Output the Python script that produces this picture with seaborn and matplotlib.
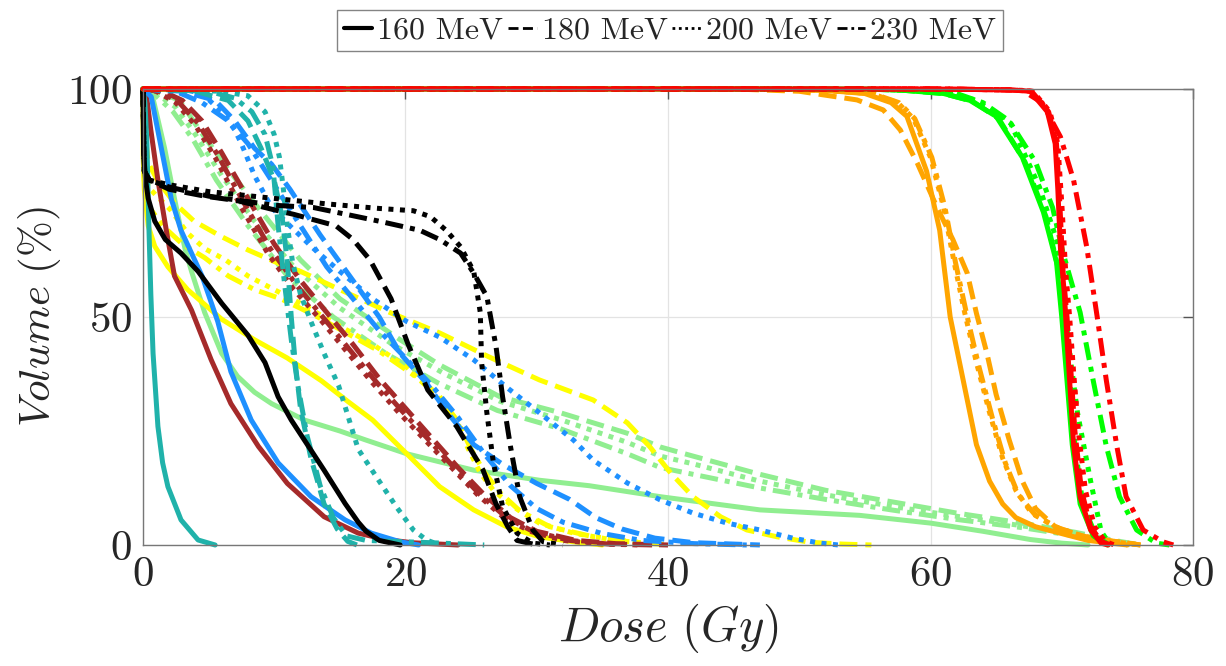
import matplotlib
matplotlib.use("Agg")
import matplotlib.pyplot as plt
from matplotlib.lines import Line2D
import seaborn as sns

# ---- dose-volume histogram points: (dose in Gy, volume in %) ----
# one list per structure colour and proton energy
red_160 = [(0, 100), (60, 100), (66, 99.8), (67.6, 99.5), (68.9, 95), (69.5, 88), (69.7, 78), (69.9, 65),
           (70.2, 55), (70.4, 45), (70.6, 36), (70.9, 22), (71.4, 10.5), (72.2, 3.3), (73, 0.4), (73.5, 0)]
red_180 = [(0, 100), (60, 100), (66, 99.8), (67.7, 99.5), (69, 95), (69.6, 88), (69.85, 75), (70.1, 60),
           (70.4, 50), (70.7, 38), (71, 25), (71.5, 12), (72.2, 4), (73, 0.8), (73.7, 0)]
red_200 = [(0, 100), (60, 100), (66, 99.8), (67.8, 99.5), (69.1, 95), (69.7, 88), (70, 75), (70.3, 60),
           (70.6, 50), (70.9, 38), (71.3, 24), (71.8, 12), (72.5, 4), (73.3, 0.8), (74, 0)]
red_230 = [(0, 100), (62, 100), (67, 99.7), (68.5, 97), (69.9, 89.5), (70.9, 80), (71.9, 65.4), (72.7, 50),
           (73.4, 36), (74.2, 21.6), (74.9, 10.6), (76.2, 3.3), (77.7, 0.7), (78.5, 0)]

green_160 = [(0, 100), (55, 100), (58, 99.7), (61, 99), (63, 97.5), (65, 94), (67, 85), (68.6, 73), (69.6, 62),
             (70, 50), (70.4, 36), (70.8, 22), (71.4, 9), (72.4, 2), (73.5, 0)]
green_180 = [(0, 100), (55, 100), (58, 99.7), (61, 99), (63.2, 97.3), (65.2, 93.5), (67.2, 84), (68.8, 72),
             (69.7, 61), (70.2, 50), (70.6, 36), (71, 22), (71.6, 9), (72.6, 2), (73.6, 0)]
green_200 = [(0, 100), (55, 100), (58.5, 99.7), (61.5, 99), (63.5, 97.5), (66.1, 92.5), (68.3, 78.5),
             (69.6, 67), (70.3, 50), (70.7, 40), (71.2, 29), (72.2, 14), (73, 3), (73.7, 0)]
green_230 = [(0, 100), (56, 100), (59, 99.7), (62, 99), (64, 97), (66, 93), (68, 84), (69.3, 74), (70.1, 64),
             (71.4, 51), (72.4, 36), (73.4, 21.6), (74.4, 10.6), (75.7, 3.3), (77.2, 0.4), (78.2, 0)]

orange_160 = [(0, 100), (48, 100), (52, 99.7), (55, 99), (57, 97), (58.2, 94), (59.7, 82), (60.7, 69),
              (61.5, 50), (62.5, 36), (63.5, 22), (64.5, 14), (65.5, 9), (66.5, 6), (68, 4), (70, 2.5),
              (72, 1), (75, 0)]
orange_180 = [(0, 100), (45, 100), (50, 99.5), (54.4, 97.6), (56.4, 95.4), (57.7, 91), (59, 83.7), (60.5, 74),
              (61.7, 67), (62.8, 59.6), (63.5, 50.8), (64.3, 42), (65, 33), (66, 23), (67, 14), (68, 8),
              (69.5, 4), (71.5, 2), (74, 0.8), (76, 0)]
orange_200 = [(0, 100), (48, 100), (52, 99.7), (55.5, 99), (57.5, 97), (58.7, 93.5), (60, 85), (61, 74),
              (61.8, 62), (62.6, 51), (63.5, 40), (64.5, 29), (65.5, 19), (66.5, 12), (67.7, 7), (69.5, 4),
              (71.5, 2), (74, 0.7), (76, 0)]
orange_230 = [(0, 100), (48, 100), (52, 99.7), (55.6, 99), (57.6, 97), (58.8, 93.5), (60.1, 85), (61.1, 74),
              (61.9, 62), (62.8, 50), (63.7, 39), (64.7, 28), (65.7, 18), (66.7, 11), (68, 6.5), (69.8, 3.6),
              (72, 1.6), (74.5, 0.6), (76, 0)]

lightgreen_160 = [(0, 100), (0.3, 99.5), (0.76, 98), (1.65, 87), (2.4, 76), (3.2, 65), (3.7, 60), (4.7, 51),
                  (6, 42), (7.2, 37), (8.5, 33.5), (9.8, 31), (12.3, 27.4), (15, 25), (17, 23), (20.1, 20),
                  (25.2, 16.4), (30.2, 14.2), (34, 13), (39.4, 10.6), (47, 7.7), (54.6, 6.5), (60, 4.8),
                  (64, 3), (67.6, 1.2), (70, 0.4), (72, 0)]
lightgreen_180 = [(0, 100), (1, 99.5), (2.8, 97.5), (4.3, 91), (6.6, 82), (8.9, 73.5), (12, 62.5), (15, 54),
                  (19.6, 45), (22.6, 39.5), (27.2, 32.5), (31.8, 29), (36.9, 24.5), (39.4, 21.5),
                  (41.9, 19.5), (47, 15.5), (52, 12), (57, 9.5), (62, 7), (67, 4.8), (71, 2.8), (74, 1),
                  (76, 0)]
lightgreen_200 = [(0, 100), (1, 99), (2.5, 96), (4, 90), (6, 81), (8.5, 71), (11.5, 61), (15, 52), (19, 44),
                  (23, 37.5), (27.2, 31.5), (31.8, 27.5), (36.9, 22.5), (39.4, 19.5), (41.9, 17.8),
                  (47, 14), (52, 11), (57, 8.5), (62, 6.3), (67, 4.2), (71, 2.3), (74, 0.8), (75.5, 0)]
lightgreen_230 = [(0, 100), (1, 98.5), (2.3, 95), (3.8, 89), (5.6, 80), (8, 70), (11, 59), (14.5, 50),
                  (18.5, 42), (22.5, 35.5), (27, 29.5), (31.8, 25.5), (36.9, 20), (39.4, 17), (41.9, 15.5),
                  (47, 12.5), (52, 10), (57, 7.7), (62, 5.6), (67, 3.8), (71, 2), (74, 0.6), (75, 0)]

yellow_160 = [(0, 100), (0.02, 85), (0.1, 78), (0.4, 70), (0.9, 65.5), (1.9, 61), (3.4, 56), (6, 49.5),
              (8.5, 45), (11, 41), (13.6, 36), (15.6, 31.5), (17.5, 27.4), (20.1, 20), (22.6, 12.8),
              (25.2, 7.7), (27.7, 4), (30.2, 1.8), (32.8, 0.7), (35, 0)]
yellow_180 = [(0, 100), (0.1, 92), (0.4, 83.8), (1.1, 80), (2.4, 75), (3.9, 71), (6, 67.6), (8, 64.7),
              (10.3, 61.8), (12, 60), (15, 56), (18.8, 51), (22.6, 46.5), (26.4, 41.2), (30.2, 36.2),
              (34.3, 31.8), (36.9, 26.8), (38.6, 21.6), (40.2, 15.8), (41.9, 10.6), (44, 6.2), (46, 3.3),
              (48.3, 1.8), (50.8, 0.6), (53.3, 0.2), (55.5, 0)]
yellow_200 = [(0, 100), (0.1, 85), (0.4, 78.5), (1.1, 76.4), (2.1, 73.5), (3.4, 68.4), (4.7, 65), (6.3, 62.5),
              (8, 59), (10, 56), (12, 53), (15, 48), (17.5, 44), (20.1, 39), (22.6, 32), (23.9, 27.4),
              (24.7, 21.6), (25.7, 15.8), (26.7, 12), (28.2, 8.4), (30.2, 4.8), (32.8, 2.6), (36, 1), (40, 0)]
yellow_230 = [(0, 100), (0.1, 80), (0.5, 74), (1.5, 70), (3, 66), (4.7, 63), (6.5, 59), (8.5, 56),
              (10.5, 54), (13, 50.5), (15.5, 46.5), (18, 42.5), (20.5, 37.5), (22.5, 33), (24, 27), (25, 21),
              (26, 16), (27.2, 11.5), (28.7, 7.5), (31, 4), (34, 2), (37, 0.8), (40, 0)]

blue_160 = [(0, 100), (0.2, 99.5), (0.63, 98.3), (1.4, 87), (2.15, 76), (2.9, 69), (4.5, 59), (5.7, 49),
            (6.7, 38), (8.25, 27.4), (10.3, 18), (12.8, 10.6), (15.4, 5.5), (17.4, 2.6), (19.6, 0.7), (21, 0)]
blue_180 = [(0, 100), (3, 99.5), (5.5, 97.5), (7, 93), (8.5, 87), (9.8, 83.5), (11.2, 78), (13.5, 68),
            (16, 58), (18, 50), (19.6, 42), (21.6, 35.5), (23.2, 29), (25.2, 22), (27.5, 17.5), (30, 13.5),
            (32.5, 10), (34.5, 6), (36.5, 3.5), (39, 1.5), (42, 0.5), (47, 0)]
blue_200 = [(0, 100), (3, 100), (4.5, 99), (6, 95), (7, 91), (7.5, 88), (8.5, 81), (9.8, 74), (11.3, 69.7),
            (13, 65), (15, 60), (17.5, 54), (20.1, 49), (22.6, 45.6), (25.2, 40.6), (27.7, 34.6), (30.2, 29),
            (32.8, 23), (34.3, 18.6), (36.9, 13.6), (39.4, 9.9), (41.9, 7), (44.5, 4.8), (47, 3.3),
            (49.5, 1.5), (51.6, 0.4), (53, 0)]
blue_230 = [(0, 100), (2.5, 99.5), (4.5, 97), (6.5, 93), (8, 88), (10, 79), (12, 70), (14, 61), (16, 54),
            (18, 47), (20, 41), (22, 35), (24, 28), (26, 20), (28, 13), (30, 8), (32, 5), (35, 2.5),
            (38, 1), (42, 0.3), (46, 0)]

brown_160 = [(0, 100), (0.25, 99), (0.6, 91), (1.14, 80), (1.78, 69), (2.4, 59), (3.7, 51.5), (5.2, 40.6),
             (6.7, 31), (8.8, 21.6), (11, 13.5), (13.8, 6.2), (16.4, 2.6), (18.5, 1.2), (20.5, 0.5), (24, 0)]
brown_180 = [(0, 100), (1.5, 99.5), (3, 97.5), (4.5, 93), (6, 86), (8, 76), (10, 66), (12, 58), (14, 51),
             (16, 44), (18, 36.5), (20, 30), (22, 23.5), (24, 17), (26, 11), (28, 6), (30, 3), (33, 1),
             (36, 0.3), (40, 0)]
brown_200 = [(0, 100), (1, 99.5), (2.5, 97), (4, 92), (5.5, 85), (7.5, 74), (9.5, 64), (11.5, 56),
             (13.5, 49.5), (15.5, 42.5), (17.5, 35.5), (19.5, 29), (21.5, 23), (23.5, 17), (25.5, 11),
             (27.5, 6), (29.5, 3), (32, 1), (35, 0.2), (38, 0)]
brown_230 = [(0, 100), (1.2, 99.5), (2.7, 97.2), (4.2, 92.5), (5.7, 85.5), (7.7, 75), (9.7, 65), (11.7, 57),
             (13.7, 50), (15.7, 43), (17.7, 36), (19.7, 29.5), (21.7, 23.3), (23.7, 17), (25.7, 11),
             (27.7, 6), (29.7, 3), (32.5, 1), (35.5, 0.2), (39, 0)]

teal_160 = [(0, 100), (0.15, 97), (0.3, 88), (0.45, 70), (0.6, 55), (0.77, 42), (1.14, 26), (1.5, 18),
            (1.9, 12.8), (2.9, 5.5), (4.2, 1.1), (5.5, 0)]
teal_180 = [(0, 100), (4, 99.5), (6.5, 97.5), (8, 93), (9, 87), (10, 80), (10.6, 72), (11, 62), (11.3, 50),
            (11.6, 40), (12, 30), (12.8, 19), (13.8, 9), (14.8, 3.5), (15.6, 0.8), (16.3, 0)]
teal_200 = [(0, 100), (6, 99.5), (8, 98.5), (9.3, 95), (10, 90), (10.4, 85), (10.7, 78), (11, 70),
            (11.4, 62), (12, 55), (12.8, 49), (13.8, 42), (14.9, 35), (16.4, 21), (18, 14), (19.3, 8.4),
            (20.6, 3.3), (21.6, 1.1), (22.6, 0)]
teal_230 = [(0, 100), (5, 99.5), (7, 98), (8.3, 95), (9.3, 90), (9.9, 83), (10.3, 70), (10.8, 57),
            (11.3, 45), (11.8, 35), (12.5, 24), (13.5, 13), (14.5, 6), (15.5, 2), (17, 1), (22, 0.5), (26, 0)]

black_160 = [(0, 100), (0.05, 86), (0.2, 80), (0.4, 76), (0.9, 71), (1.7, 67), (2.9, 64), (4.2, 60), (6, 53),
             (8, 46), (9.3, 40), (10.3, 32.5), (11.3, 27.4), (12.3, 23), (13.8, 16.4), (15.4, 9.1),
             (16.4, 5), (17, 3), (18, 1), (19.6, 0)]
black_180 = [(0, 100), (0.1, 82), (0.5, 80), (2, 78), (4.7, 76.5), (7.2, 75.5), (10, 73.5), (11.5, 72.5),
             (14.7, 70), (16, 67), (17.3, 62.5), (18.9, 54), (20.2, 44), (21.7, 34), (23.9, 26),
             (25.9, 16.5), (26.9, 9), (27.8, 4), (28.5, 1), (30, 0)]
black_200 = [(0, 100), (0.1, 82), (0.5, 80), (2, 79), (5, 77.5), (10, 76), (14, 74.8), (18, 73.8),
             (20.6, 73.3), (21.9, 72), (23.1, 69), (24.2, 65.4), (25.2, 60), (25.7, 51), (25.8, 40),
             (26.2, 29), (26.7, 18), (27.4, 8.4), (28.5, 2.6), (29.7, 0.4), (31, 0)]
black_230 = [(0, 100), (0.1, 82), (0.5, 80), (2, 78.5), (5, 76.5), (10, 74.5), (13, 74), (18, 71),
             (21.1, 69), (22.6, 67), (24.2, 64), (25.2, 59.6), (26.2, 54.5), (26.9, 43.5), (27.4, 32.5),
             (28, 21.6), (28.7, 10.6), (29.7, 3.3), (30.5, 0.7), (32, 0)]

energy_labels = ["160 MeV", "180 MeV", "200 MeV", "230 MeV"]

# ---- styling ----
line_styles = ["-", (0, (3.6, 1.6)), (0, (1, 1.3)), (0, (3.6, 1.4, 1, 1.4))]
structures = [
    ("#90EE90", [lightgreen_160, lightgreen_180, lightgreen_200, lightgreen_230]),
    ("#FFFF00", [yellow_160, yellow_180, yellow_200, yellow_230]),
    ("#A52A2A", [brown_160, brown_180, brown_200, brown_230]),
    ("#1E90FF", [blue_160, blue_180, blue_200, blue_230]),
    ("#20B2AA", [teal_160, teal_180, teal_200, teal_230]),
    ("#000000", [black_160, black_180, black_200, black_230]),
    ("#FFA500", [orange_160, orange_180, orange_200, orange_230]),
    ("#00FF00", [green_160, green_180, green_200, green_230]),
    ("#FF0000", [red_160, red_180, red_200, red_230]),
]

sns.set_style("white")
plt.rcParams["font.family"] = "serif"
plt.rcParams["font.serif"] = ["cmr10", "DejaVu Serif"]
plt.rcParams["mathtext.fontset"] = "cm"
plt.rcParams["axes.formatter.use_mathtext"] = True
plt.rcParams["axes.unicode_minus"] = False

fig = plt.figure(figsize=(12.26, 6.66), dpi=100)
ax = fig.add_axes([0.1166, 0.1817, 0.8565, 0.6847])

LW = 3.6
for color, curves in structures:
    for pts, ls in zip(curves, line_styles):
        dose = [p[0] for p in pts]
        vol = [p[1] for p in pts]
        sns.lineplot(x=dose, y=vol, ax=ax, color=color, linestyle=ls, linewidth=LW,
                     sort=False, estimator=None, clip_on=False, legend=False)

ax.set_xlim(0, 80)
ax.set_ylim(0, 100)
ax.set_xticks([0, 20, 40, 60, 80])
ax.set_yticks([0, 50, 100])
ax.grid(True, color="#e3e3e3", linewidth=0.9)
ax.set_axisbelow(True)
for s in ax.spines.values():
    s.set_visible(True)
    s.set_color("#777777")
    s.set_linewidth(1.0)
ax.tick_params(axis="both", which="both", direction="in", top=True, right=True,
               length=7, width=1.0, color="#555555", labelsize=31, pad=8)
ax.set_xlabel(r"$Dose\ (Gy)$", fontsize=35, labelpad=6)
ax.set_ylabel(r"$Volume\ (\%)$", fontsize=31, labelpad=3)

handles = [Line2D([], [], color="black", linestyle=ls, linewidth=3 if i == 0 else 2)
           for i, ls in enumerate(line_styles)]
leg = fig.legend(handles, energy_labels, loc="upper center", bbox_to_anchor=(0.5465, 0.985),
                 ncol=4, fontsize=23, frameon=True, fancybox=False, handlelength=0.9,
                 handletextpad=0.15, columnspacing=0.15, borderpad=0.2, borderaxespad=0)
leg.get_frame().set_edgecolor("#666666")
leg.get_frame().set_linewidth(1.0)

fig.savefig("out.png", dpi=100)
